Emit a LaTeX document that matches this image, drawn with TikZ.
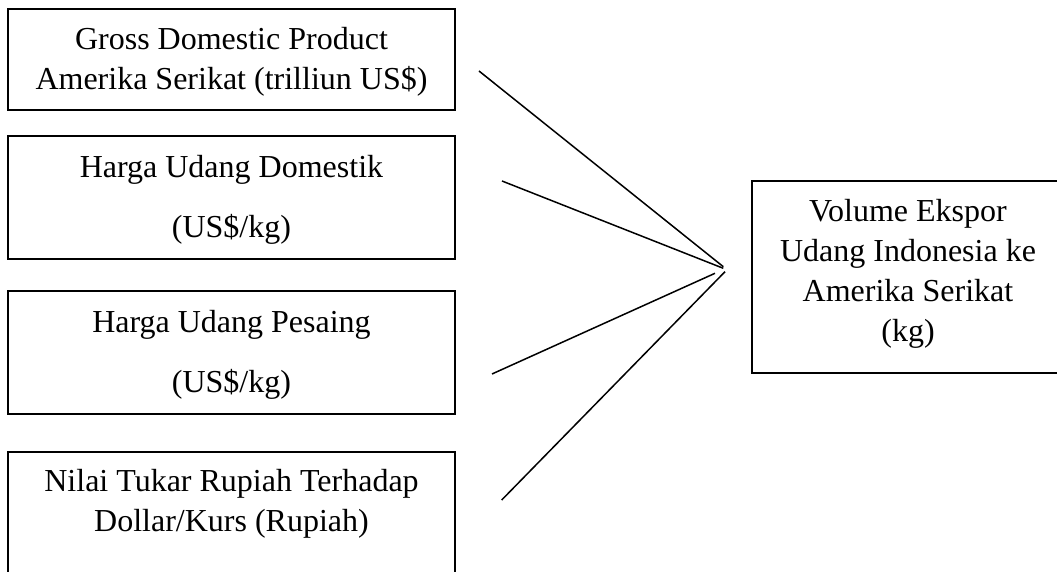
\documentclass[tikz,border=0pt]{standalone}
\usepackage{fontspec}
\setmainfont{Liberation Serif}
\begin{document}
\begin{tikzpicture}[x=0.5pt,y=-0.5pt,
  box/.style={draw=black, line width=0.9pt, rectangle, inner sep=0pt, minimum width=223.5pt},
  txt/.style={inner sep=0pt, align=center, font=\fontsize{16}{20}\selectfont},
  conn/.style={draw=black, line width=0.75pt}]
\useasboundingbox (0,0) rectangle (1057,572);
\clip (0,0) rectangle (1057,572);
\fill[white] (0,0) rectangle (1057,572);
% boxes
\node[box, minimum height=50.5pt] (b1) at (231.5,59.5) {};
\node[box, minimum height=61.5pt] (b2) at (231.5,197.5) {};
\node[box, minimum height=61.5pt] (b3) at (231.5,352.5) {};
\node[box, minimum height=84pt] (b4) at (231.5,536) {};
\node[box, minimum width=164pt, minimum height=96pt] (out) at (916,277) {};
% texts
\node[txt] (t1) at (231.5,61.3) {\strut Gross Domestic Product\\\strut Amerika Serikat (trilliun US\$)};
\node[txt] (t2) at (231.5,199.5) {\strut Harga Udang Domestik\\[10pt]\strut (US\$/kg)};
\node[txt] (t3) at (231.5,355) {\strut Harga Udang Pesaing\\[10pt]\strut (US\$/kg)};
\node[txt] (t4) at (231.5,504) {\strut Nilai Tukar Rupiah Terhadap\\\strut Dollar/Kurs (Rupiah)};
\node[txt] (t5) at (908,274) {\strut Volume Ekspor\\\strut Udang Indonesia ke\\\strut Amerika Serikat\\\strut (kg)};
% connector end points
\coordinate (s1) at (479,71);
\coordinate (s2) at (502,181);
\coordinate (s3) at (492,374);
\coordinate (s4) at (501.7,500);
\coordinate (e1) at (723.3,266.7);
\coordinate (e2) at (723.3,268.3);
\coordinate (e3) at (715,273.3);
\coordinate (e4) at (725,271.7);
\draw[conn] (s1) -- (e1);
\draw[conn] (s2) -- (e2);
\draw[conn] (s3) -- (e3);
\draw[conn] (s4) -- (e4);
\end{tikzpicture}
\end{document}
